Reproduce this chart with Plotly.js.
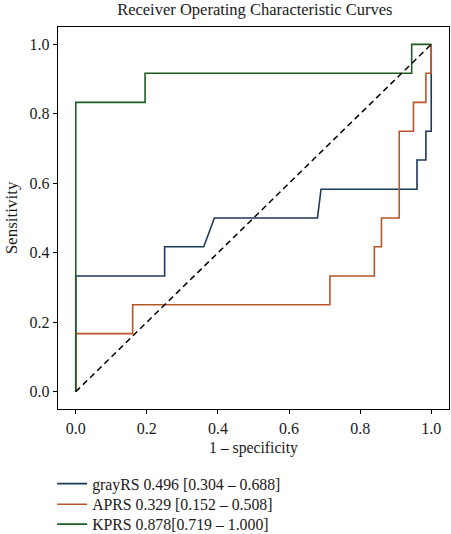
<!DOCTYPE html>
<html>
<head>
<meta charset="utf-8">
<script src="https://cdn.plot.ly/plotly-3.0.1.min.js"></script>
<style>html,body{margin:0;padding:0;background:#fff;}#chart{width:451px;height:534px;}</style>
</head>
<body>
<div id="chart"></div>
<script>
const grayFpr = [0, 0, 0.25, 0.25, 0.36, 0.39, 0.68, 0.69, 0.96, 0.96, 0.985, 0.985, 1, 1];
const grayTpr = [0, 0.333, 0.333, 0.417, 0.417, 0.5, 0.5, 0.583, 0.583, 0.667, 0.667, 0.75, 0.75, 1];
const apFpr = [0, 0, 0.16, 0.16, 0.715, 0.715, 0.84, 0.84, 0.86, 0.86, 0.91, 0.91, 0.95, 0.95, 0.985, 0.985, 1, 1];
const apTpr = [0, 0.167, 0.167, 0.25, 0.25, 0.333, 0.333, 0.417, 0.417, 0.5, 0.5, 0.75, 0.75, 0.833, 0.833, 0.917, 0.917, 1];
const kpFpr = [0, 0, 0.195, 0.195, 0.945, 0.945, 1];
const kpTpr = [0, 0.833, 0.833, 0.917, 0.917, 1, 1];
const chanceX = [0, 1];
const chanceY = [0, 1];
const names = ['grayRS 0.496 [0.304 – 0.688]', 'APRS 0.329 [0.152 – 0.508]', 'KPRS 0.878[0.719 – 1.000]'];
const tickVals = [0, 0.2, 0.4, 0.6, 0.8, 1.0];
const tickText = ['0.0', '0.2', '0.4', '0.6', '0.8', '1.0'];

const FONT = 'Liberation Serif, Times New Roman, serif';
const TXT = '#1a1a1a';
const traces = [
  {x: grayFpr, y: grayTpr, mode: 'lines', name: names[0], legend: 'legend', line: {color: '#1c3a5c', width: 1.6}},
  {x: apFpr, y: apTpr, mode: 'lines', name: names[1], legend: 'legend2', line: {color: '#b8562a', width: 1.6}},
  {x: kpFpr, y: kpTpr, mode: 'lines', name: names[2], legend: 'legend3', line: {color: '#1d5c20', width: 1.6}},
  {x: chanceX, y: chanceY, mode: 'lines', showlegend: false, line: {color: '#000', width: 1.5, dash: '6px,4px'}}
];
const axisCommon = {
  range: [-0.05, 1.05], tickvals: tickVals, ticktext: tickText,
  showgrid: false, zeroline: false, showline: true, mirror: true,
  linecolor: '#000', linewidth: 1.3, ticks: 'outside', ticklen: 4, tickwidth: 1, tickcolor: '#000',
  tickfont: {family: FONT, size: 16, color: TXT}
};
function leg(yc) {
  return {x: -0.015, xanchor: 'left', y: yc, yanchor: 'middle', orientation: 'v', bgcolor: 'rgba(0,0,0,0)', borderwidth: 0,
          font: {family: FONT, size: 15.8, color: TXT}, itemwidth: 30};
}
const layout = {
  width: 451, height: 534,
  margin: {l: 58, r: 2, t: 27, b: 125, autoexpand: false},
  paper_bgcolor: '#fff', plot_bgcolor: '#fff',
  font: {family: FONT, color: TXT},
  title: {text: 'Receiver Operating Characteristic Curves', font: {family: FONT, size: 16.5, color: TXT}, x: 0.565, xanchor: 'center', y: 0.983, yanchor: 'middle'},
  xaxis: Object.assign({}, axisCommon, {title: {text: '1 – specificity', font: {family: FONT, size: 15.7, color: TXT}, standoff: 6}}),
  yaxis: Object.assign({}, axisCommon, {title: {text: 'Sensitivity', font: {family: FONT, size: 17, color: TXT}, standoff: 7}}),
  showlegend: true,
  legend: leg(-0.196),
  legend2: leg(-0.250),
  legend3: leg(-0.302)
};
Plotly.newPlot('chart', traces, layout, {staticPlot: true, displayModeBar: false});
</script>
</body>
</html>
